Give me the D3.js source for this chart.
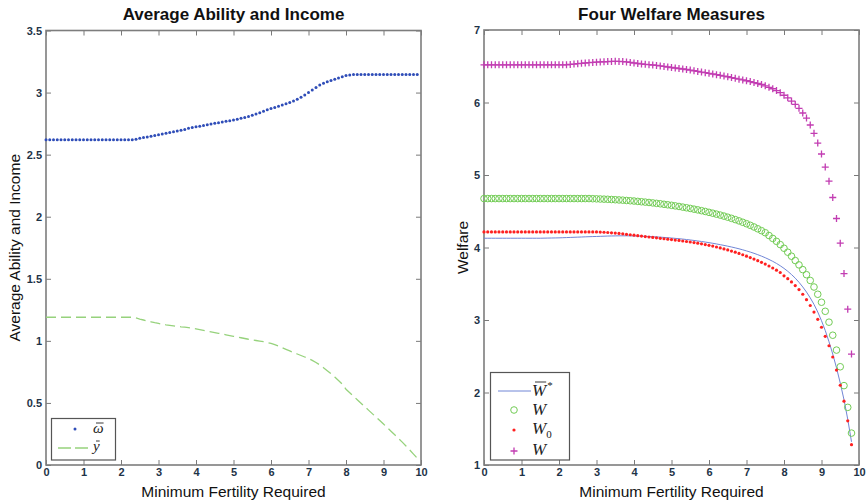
<!DOCTYPE html>
<html>
<head>
<meta charset="utf-8">
<script src="https://cdn.jsdelivr.net/npm/d3@7"></script>
<style>
  html, body { margin: 0; padding: 0; background: #ffffff; }
  svg { display: block; }
  .tick text { font-family: "Liberation Sans", Arial, sans-serif; font-size: 11px; font-weight: bold; fill: #1e3347; }
  .tick line { stroke: #7a7a7a; stroke-width: 1; }
</style>
</head>
<body>
<svg id="chart" width="867" height="503"></svg>
<script>
// ---- Left panel: average ability and income vs. minimum fertility required ----
const fertLeft = [
  0.0,0.1,0.2,0.3,0.4,0.5,0.6,0.7,0.8,0.9,1.0,1.1,1.2,1.3,1.4,1.5,1.6,1.7,1.8,1.9,
  2.0,2.1,2.2,2.3,2.4,2.5,2.6,2.7,2.8,2.9,3.0,3.1,3.2,3.3,3.4,3.5,3.6,3.7,3.8,3.9,
  4.0,4.1,4.2,4.3,4.4,4.5,4.6,4.7,4.8,4.9,5.0,5.1,5.2,5.3,5.4,5.5,5.6,5.7,5.8,5.9,
  6.0,6.1,6.2,6.3,6.4,6.5,6.6,6.7,6.8,6.9,7.0,7.1,7.2,7.3,7.4,7.5,7.6,7.7,7.8,7.9,
  8.0,8.1,8.2,8.3,8.4,8.5,8.6,8.7,8.8,8.9,9.0,9.1,9.2,9.3,9.4,9.5,9.6,9.7,9.8,9.9
];
const avgAbility = [
  2.620,2.620,2.620,2.620,2.620,2.620,2.620,2.620,2.620,2.620,2.620,2.620,2.620,2.620,2.620,2.620,2.620,2.620,2.620,2.620,
  2.620,2.620,2.620,2.620,2.625,2.632,2.638,2.643,2.648,2.655,2.661,2.667,2.673,2.679,2.685,2.691,2.697,2.703,2.712,2.718,
  2.724,2.729,2.735,2.741,2.747,2.752,2.757,2.763,2.769,2.774,2.780,2.786,2.793,2.800,2.808,2.817,2.827,2.838,2.850,2.862,
  2.872,2.880,2.890,2.900,2.910,2.921,2.933,2.946,2.962,2.980,3.000,3.020,3.040,3.060,3.075,3.088,3.098,3.108,3.118,3.128,
  3.137,3.142,3.145,3.145,3.145,3.145,3.145,3.145,3.145,3.145,3.145,3.145,3.145,3.145,3.145,3.145,3.145,3.145,3.145,3.145
];
const avgIncome = [
  1.190,1.190,1.190,1.190,1.190,1.190,1.190,1.190,1.190,1.190,1.190,1.190,1.190,1.190,1.190,1.190,1.190,1.190,1.190,1.190,
  1.190,1.190,1.190,1.190,1.185,1.176,1.168,1.160,1.153,1.146,1.140,1.134,1.129,1.125,1.121,1.117,1.113,1.110,1.107,1.102,
  1.097,1.091,1.085,1.079,1.073,1.067,1.061,1.055,1.049,1.043,1.037,1.031,1.025,1.019,1.013,1.008,1.003,0.998,0.993,0.987,
  0.980,0.970,0.958,0.945,0.932,0.919,0.906,0.894,0.882,0.870,0.857,0.843,0.826,0.806,0.784,0.760,0.735,0.708,0.680,0.652,
  0.610,0.582,0.554,0.526,0.498,0.470,0.442,0.414,0.386,0.358,0.330,0.301,0.272,0.243,0.214,0.184,0.153,0.121,0.088,0.055
];
const leftYTicks = [0, 0.5, 1, 1.5, 2, 2.5, 3, 3.5];
const leftYTickLabels = ["0", "0.5", "1", "1.5", "2", "2.5", "3", "3.5"];

// ---- Right panel: four welfare measures ----
const fertRight = [
  0.0,0.1,0.2,0.3,0.4,0.5,0.6,0.7,0.8,0.9,1.0,1.1,1.2,1.3,1.4,1.5,1.6,1.7,1.8,1.9,
  2.0,2.1,2.2,2.3,2.4,2.5,2.6,2.7,2.8,2.9,3.0,3.1,3.2,3.3,3.4,3.5,3.6,3.7,3.8,3.9,
  4.0,4.1,4.2,4.3,4.4,4.5,4.6,4.7,4.8,4.9,5.0,5.1,5.2,5.3,5.4,5.5,5.6,5.7,5.8,5.9,
  6.0,6.1,6.2,6.3,6.4,6.5,6.6,6.7,6.8,6.9,7.0,7.1,7.2,7.3,7.4,7.5,7.6,7.7,7.8,7.9,
  8.0,8.1,8.2,8.3,8.4,8.5,8.6,8.7,8.8,8.9,9.0,9.1,9.2,9.3,9.4,9.5,9.6,9.7,9.8
];
const welfareStar = [
  4.128,4.128,4.128,4.128,4.128,4.128,4.128,4.128,4.128,4.128,4.128,4.128,4.128,4.128,4.128,4.128,4.129,4.130,4.131,4.132,
  4.133,4.135,4.137,4.139,4.141,4.143,4.145,4.147,4.149,4.151,4.152,4.154,4.156,4.158,4.159,4.160,4.161,4.161,4.161,4.160,
  4.159,4.158,4.156,4.154,4.152,4.149,4.146,4.143,4.139,4.135,4.131,4.126,4.121,4.116,4.110,4.104,4.097,4.090,4.083,4.075,
  4.067,4.058,4.049,4.039,4.029,4.018,4.007,3.995,3.982,3.968,3.953,3.937,3.920,3.901,3.881,3.859,3.835,3.809,3.780,3.748,
  3.712,3.672,3.627,3.577,3.520,3.456,3.385,3.305,3.215,3.110,2.990,2.855,2.700,2.530,2.340,2.130,1.900,1.630,1.320
];
const welfareMean = [
  4.675,4.675,4.675,4.675,4.675,4.675,4.675,4.675,4.675,4.675,4.675,4.675,4.675,4.675,4.675,4.675,4.675,4.675,4.675,4.675,
  4.675,4.675,4.675,4.675,4.675,4.675,4.675,4.675,4.675,4.673,4.671,4.669,4.667,4.665,4.662,4.659,4.656,4.653,4.649,4.645,
  4.641,4.636,4.631,4.626,4.621,4.615,4.609,4.603,4.596,4.589,4.582,4.574,4.566,4.557,4.548,4.539,4.529,4.519,4.508,4.497,
  4.485,4.473,4.460,4.447,4.433,4.418,4.402,4.385,4.367,4.348,4.328,4.306,4.283,4.258,4.232,4.204,4.165,4.125,4.085,4.040,
  3.990,3.935,3.880,3.820,3.760,3.695,3.625,3.545,3.455,3.355,3.245,3.120,2.970,2.790,2.585,2.355,2.095,1.795,1.440
];
const welfareZero = [
  4.215,4.215,4.215,4.215,4.215,4.215,4.215,4.215,4.215,4.215,4.215,4.215,4.215,4.215,4.215,4.215,4.215,4.215,4.215,4.215,
  4.215,4.215,4.215,4.215,4.215,4.215,4.215,4.215,4.215,4.215,4.215,4.213,4.210,4.207,4.203,4.199,4.194,4.188,4.182,4.176,
  4.170,4.163,4.157,4.151,4.145,4.139,4.133,4.127,4.121,4.115,4.109,4.103,4.097,4.090,4.083,4.076,4.068,4.060,4.051,4.041,
  4.030,4.019,4.007,3.994,3.980,3.966,3.951,3.935,3.918,3.900,3.881,3.861,3.840,3.818,3.795,3.771,3.745,3.717,3.687,3.655,
  3.610,3.570,3.525,3.475,3.420,3.355,3.280,3.200,3.110,3.010,2.900,2.775,2.645,2.490,2.310,2.100,1.880,1.610,1.280
];
const welfareTop = [
  6.520,6.520,6.520,6.520,6.520,6.520,6.520,6.520,6.520,6.520,6.520,6.520,6.520,6.520,6.520,6.520,6.520,6.520,6.520,6.520,
  6.520,6.520,6.520,6.525,6.530,6.535,6.540,6.545,6.550,6.553,6.556,6.559,6.562,6.565,6.567,6.568,6.567,6.565,6.560,6.553,
  6.545,6.538,6.532,6.527,6.522,6.517,6.511,6.504,6.497,6.490,6.483,6.476,6.469,6.462,6.455,6.447,6.438,6.429,6.420,6.411,
  6.402,6.393,6.384,6.375,6.365,6.355,6.344,6.333,6.322,6.311,6.300,6.288,6.275,6.262,6.248,6.230,6.210,6.190,6.165,6.135,
  6.100,6.065,6.020,5.975,5.920,5.855,5.785,5.690,5.575,5.440,5.290,5.110,4.915,4.690,4.400,4.060,3.640,3.150,2.530
];
const rightYTicks = [1, 2, 3, 4, 5, 6, 7];
const xTicks = [0, 1, 2, 3, 4, 5, 6, 7, 8, 9, 10];

// Colours
const colAbility = "#2f4db8";
const colIncome  = "#96d27c";
const colStar    = "#7186d6";
const colMean    = "#72cc55";
const colZero    = "#ff2020";
const colTop     = "#c23db2";

const svg = d3.select("#chart");
const sansFont = '"Liberation Sans", Arial, sans-serif';
const serifFont = '"Liberation Serif", "DejaVu Serif", "Times New Roman", serif';

// Draws the MATLAB-style box frame with inward ticks on all four sides
function frame(x, y, yTicks, yFormat) {
  const [x0, x1] = x.range();
  const [y0, y1] = y.range();
  const g = svg.append("g");
  g.append("g").attr("transform", `translate(0,${y0})`)
    .call(d3.axisBottom(x).tickValues(xTicks).tickSize(-5).tickPadding(3).tickFormat(d3.format("d")))
    .call(s => s.select(".domain").remove());
  g.append("g").attr("transform", `translate(0,${y1})`)
    .call(d3.axisTop(x).tickValues(xTicks).tickSize(-5).tickFormat(""))
    .call(s => s.select(".domain").remove());
  g.append("g").attr("transform", `translate(${x0},0)`)
    .call(d3.axisLeft(y).tickValues(yTicks).tickSize(-5).tickPadding(4).tickFormat(yFormat))
    .call(s => s.select(".domain").remove());
  g.append("g").attr("transform", `translate(${x1},0)`)
    .call(d3.axisRight(y).tickValues(yTicks).tickSize(-5).tickFormat(""))
    .call(s => s.select(".domain").remove());
  g.append("rect")
    .attr("x", x0).attr("y", y1).attr("width", x1 - x0).attr("height", y0 - y1)
    .attr("fill", "none").attr("stroke", "#7d7d7d").attr("stroke-width", 1.6);
  return g;
}

function labels(x, y, title, yLabel, yLabelX) {
  const [x0, x1] = x.range();
  const [y0, y1] = y.range();
  const cx = (x0 + x1) / 2;
  svg.append("text").attr("x", cx).attr("y", 20).attr("text-anchor", "middle")
    .attr("font-family", sansFont).attr("font-size", 17).attr("font-weight", "bold")
    .attr("fill", "#111").text(title);
  svg.append("text").attr("x", cx).attr("y", 497).attr("text-anchor", "middle")
    .attr("font-family", sansFont).attr("font-size", 15.5).attr("fill", "#111")
    .text("Minimum Fertility Required");
  svg.append("text")
    .attr("transform", `translate(${yLabelX},${(y0 + y1) / 2}) rotate(-90)`)
    .attr("text-anchor", "middle")
    .attr("font-family", sansFont).attr("font-size", 15.5).attr("fill", "#111")
    .text(yLabel);
}

// Italic math-style legend label, with optional overline, superscript and subscript
function mathLabel(g, x, y, base, opts = {}) {
  const size = opts.size || 17;
  const t = g.append("text").attr("x", x).attr("y", y)
    .attr("font-family", serifFont).attr("font-size", size).attr("fill", "#222");
  t.append("tspan").attr("font-style", "italic").text(base);
  if (opts.sub) t.append("tspan").attr("font-size", 11).attr("dy", 4).text(opts.sub);
  if (opts.sup) t.append("tspan").attr("font-size", 11).attr("dx", 1).attr("dy", -7).text(opts.sup);
  if (opts.bar) {
    const baseW = t.select("tspan").node().getComputedTextLength();
    g.append("line").attr("x1", x + 3).attr("x2", x + baseW)
      .attr("y1", y - opts.bar).attr("y2", y - opts.bar)
      .attr("stroke", "#222").attr("stroke-width", 0.9);
  }
}

// ---------------- Left panel ----------------
const xL = d3.scaleLinear().domain([0, 10]).range([46, 421]);
const yL = d3.scaleLinear().domain([0, 3.5]).range([465, 30.5]);
frame(xL, yL, leftYTicks, (d, i) => leftYTickLabels[i]);

svg.append("path")
  .datum(fertLeft.map((f, i) => [f, avgIncome[i]]))
  .attr("fill", "none").attr("stroke", colIncome).attr("stroke-width", 1.3)
  .attr("stroke-dasharray", "10,5")
  .attr("d", d3.line().x(d => xL(d[0])).y(d => yL(d[1])));

svg.append("g").selectAll("circle")
  .data(fertLeft.map((f, i) => [f, avgAbility[i]]))
  .join("circle")
  .attr("cx", d => xL(d[0])).attr("cy", d => yL(d[1])).attr("r", 1.5)
  .attr("fill", colAbility);

labels(xL, yL, "Average Ability and Income", "Average Ability and Income", 20);

// left legend
{
  const g = svg.append("g");
  g.append("rect").attr("x", 51.5).attr("y", 418.5).attr("width", 64).attr("height", 41.5)
    .attr("fill", "#fff").attr("stroke", "#555").attr("stroke-width", 1.2);
  g.append("circle").attr("cx", 75).attr("cy", 429).attr("r", 1.5).attr("fill", colAbility);
  mathLabel(g, 93, 433, "ω", { bar: 10, size: 15 });
  g.append("line").attr("x1", 58).attr("x2", 91).attr("y1", 448).attr("y2", 448)
    .attr("stroke", colIncome).attr("stroke-width", 1.3).attr("stroke-dasharray", "13,4");
  mathLabel(g, 93, 451, "y", { bar: 10, size: 15 });
}

// ---------------- Right panel ----------------
const xR = d3.scaleLinear().domain([0, 10]).range([484, 859]);
const yR = d3.scaleLinear().domain([1, 7]).range([465, 30]);
frame(xR, yR, rightYTicks, d3.format("d"));

svg.append("path")
  .datum(fertRight.map((f, i) => [f, welfareStar[i]]))
  .attr("fill", "none").attr("stroke", colStar).attr("stroke-width", 1)
  .attr("d", d3.line().x(d => xR(d[0])).y(d => yR(d[1])));

svg.append("g").selectAll("circle")
  .data(fertRight.map((f, i) => [f, welfareMean[i]]))
  .join("circle")
  .attr("cx", d => xR(d[0])).attr("cy", d => yR(d[1])).attr("r", 3.3)
  .attr("fill", "none").attr("stroke", colMean).attr("stroke-width", 1);

svg.append("g").selectAll("circle")
  .data(fertRight.map((f, i) => [f, welfareZero[i]]))
  .join("circle")
  .attr("cx", d => xR(d[0])).attr("cy", d => yR(d[1])).attr("r", 1.6)
  .attr("fill", colZero);

svg.append("g").selectAll("path")
  .data(fertRight.map((f, i) => [f, welfareTop[i]]))
  .join("path")
  .attr("transform", d => `translate(${xR(d[0])},${yR(d[1])})`)
  .attr("d", "M-3.5,0H3.5M0,-3.5V3.5")
  .attr("stroke", colTop).attr("stroke-width", 1.3).attr("fill", "none");

labels(xR, yR, "Four Welfare Measures", "Welfare", 468);

// right legend
{
  const g = svg.append("g");
  g.append("rect").attr("x", 490.5).attr("y", 372.5).attr("width", 79).attr("height", 87.5)
    .attr("fill", "#fff").attr("stroke", "#555").attr("stroke-width", 1.2);
  g.append("line").attr("x1", 498).attr("x2", 531).attr("y1", 391).attr("y2", 391)
    .attr("stroke", colStar).attr("stroke-width", 1);
  mathLabel(g, 532, 396, "W", { sup: "*", bar: 14 });
  g.append("circle").attr("cx", 514).attr("cy", 410).attr("r", 3.3)
    .attr("fill", "none").attr("stroke", colMean).attr("stroke-width", 1);
  mathLabel(g, 532, 415, "W");
  g.append("circle").attr("cx", 514).attr("cy", 430).attr("r", 1.6).attr("fill", colZero);
  mathLabel(g, 532, 434, "W", { sub: "0" });
  g.append("path").attr("transform", "translate(514,451)")
    .attr("d", "M-3.5,0H3.5M0,-3.5V3.5")
    .attr("stroke", colTop).attr("stroke-width", 1.3).attr("fill", "none");
  mathLabel(g, 532, 455, "W");
}
</script>
</body>
</html>
